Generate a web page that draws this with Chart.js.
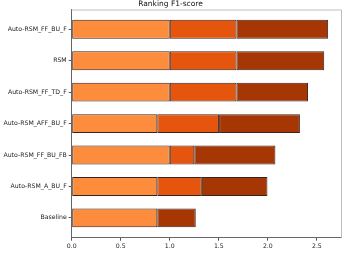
<!DOCTYPE html>
<html lang="en">
<head>
  <meta charset="UTF-8">
  <title>Ranking F1-score</title>
  <script src="https://cdn.jsdelivr.net/npm/chart.js@4"></script>
  <style>
    html, body { margin: 0; padding: 0; background: #fff; }
    #wrap { width: 359px; height: 253px; }
  </style>
</head>
<body>
  <div id="wrap"><canvas id="myChart"></canvas></div>
  <script>
    var methods = ['Auto-RSM_FF_BU_F', 'RSM', 'Auto-RSM_FF_TD_F', 'Auto-RSM_AFF_BU_F', 'Auto-RSM_FF_BU_FB', 'Auto-RSM_A_BU_F', 'Baseline']
    var part1 = [1.0, 1.0, 1.0, 0.873, 1.0, 0.873, 0.873]
    var part2 = [0.68, 0.68, 0.68, 0.63, 0.25, 0.454, 0]
    var part3 = [0.935, 0.895, 0.73, 0.824, 0.827, 0.669, 0.392]
    var xTicks = [0, 0.5, 1.0, 1.5, 2.0, 2.5]

    var colors = ['#fd8d3c', '#e6550d', '#a63603']
    var edge = 'rgba(35,10,0,0.9)'

    function toPoints(arr) {
      return arr.map((v, i) => ({ x: v, y: i }))
    }

    // top and right spines, lighter like the reference
    var frame = {
      id: 'frame',
      afterDraw(chart) {
        const a = chart.chartArea
        const c = chart.ctx
        c.save()
        c.strokeStyle = '#bdbdbd'
        c.lineWidth = 1
        c.beginPath()
        c.moveTo(a.left, a.top + 0.5)
        c.lineTo(a.right + 0.5, a.top + 0.5)
        c.lineTo(a.right + 0.5, a.bottom)
        c.stroke()
        c.restore()
      }
    }

    Chart.defaults.font.family = 'DejaVu Sans'
    Chart.defaults.color = '#222'

    new Chart(document.getElementById('myChart'), {
      type: 'bar',
      data: {
        datasets: [part1, part2, part3].map((d, k) => ({
          data: toPoints(d),
          backgroundColor: colors[k],
          borderColor: edge,
          borderWidth: 1,
          borderSkipped: false,
          categoryPercentage: 1,
          barPercentage: 0.6
        }))
      },
      options: {
        indexAxis: 'y',
        responsive: true,
        maintainAspectRatio: false,
        animation: false,
        layout: { padding: { left: 0, right: 18, top: 0, bottom: 0 } },
        plugins: {
          legend: { display: false },
          tooltip: { enabled: false },
          title: {
            display: true,
            text: 'Ranking F1-score',
            color: '#111',
            font: { size: 7.5, weight: 'normal' },
            padding: { top: 0, bottom: 0.5 }
          }
        },
        scales: {
          x: {
            type: 'linear',
            stacked: true,
            min: 0,
            max: 2.746,
            afterBuildTicks: s => { s.ticks = xTicks.map(v => ({ value: v })) },
            afterFit: s => { s.height = 15.3 },
            ticks: {
              font: { size: 6.2 },
              padding: 2,
              maxRotation: 0,
              callback: v => Number(v).toFixed(1)
            },
            grid: { drawOnChartArea: false, tickLength: 3, color: '#555' },
            border: { color: '#666' }
          },
          y: {
            type: 'linear',
            stacked: true,
            reverse: true,
            offset: false,
            min: -0.63,
            max: 6.63,
            afterBuildTicks: s => { s.ticks = methods.map((m, i) => ({ value: i })) },
            afterFit: s => { s.width = 71.7 },
            ticks: {
              font: { size: 6.2 },
              padding: 2,
              callback: v => methods[v]
            },
            grid: { drawOnChartArea: false, offset: false, tickLength: 3, color: '#555' },
            border: { color: '#666' }
          }
        }
      },
      plugins: [frame]
    })
  </script>
</body>
</html>
